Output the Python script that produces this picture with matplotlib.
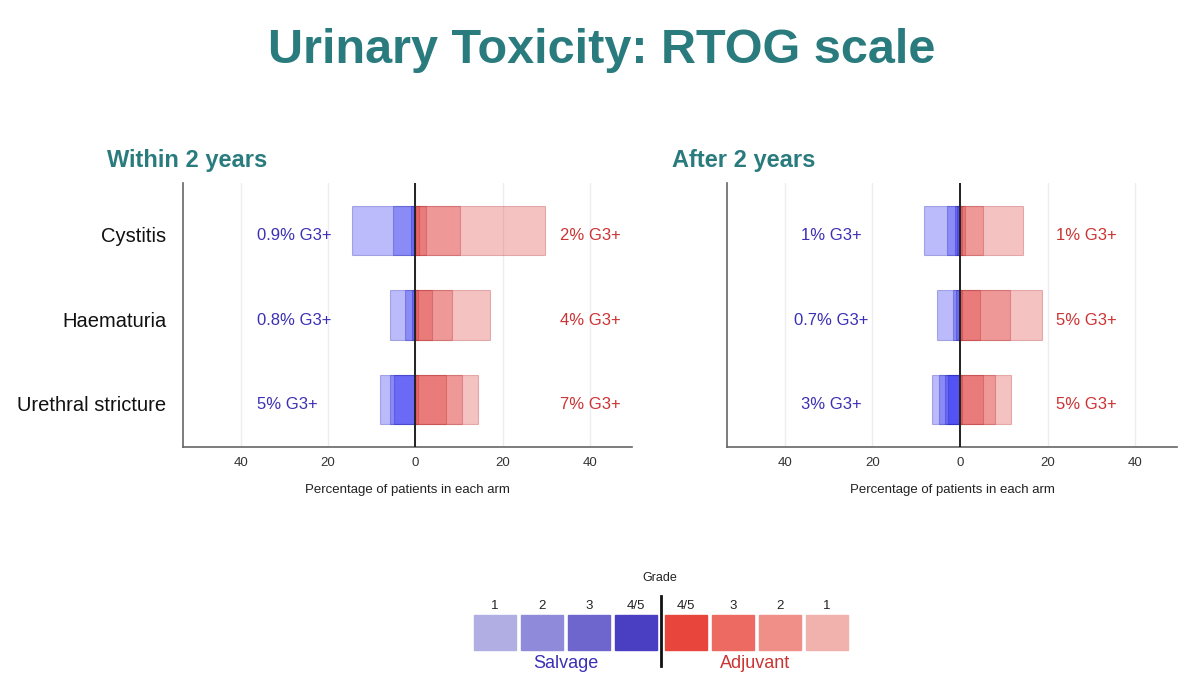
import numpy as np
import matplotlib.pyplot as plt
from matplotlib.patches import Rectangle

plt.rcParams['font.family'] = ['Liberation Sans', 'DejaVu Sans']

categories = ["Cystitis", "Haematuria", "Urethral stricture"]
grades = ["1", "2", "3", "4/5"]

# cumulative % of patients with grade >= g (columns: 1, 2, 3, 4/5)
within_salvage = [[14.6, 5.2, 1.0, 0.4],
                  [5.9, 2.5, 0.8, 0.3],
                  [8.1, 5.9, 5.0, 0.4]]
within_adjuvant = [[29.7, 10.2, 2.3, 0.8],
                   [17.1, 8.4, 3.7, 0.5],
                   [14.3, 10.7, 7.0, 0.5]]
after_salvage = [[8.2, 3.0, 1.1, 0.7],
                 [5.2, 1.6, 0.85, 0.3],
                 [6.3, 4.7, 3.4, 2.8]]
after_adjuvant = [[14.4, 5.3, 1.2, 0.5],
                  [18.6, 11.3, 4.5, 0.5],
                  [11.7, 8.0, 5.3, 0.5]]

within_salvage_g3 = ["0.9% G3+", "0.8% G3+", "5% G3+"]
within_adjuvant_g3 = ["2% G3+", "4% G3+", "7% G3+"]
after_salvage_g3 = ["1% G3+", "0.7% G3+", "3% G3+"]
after_adjuvant_g3 = ["1% G3+", "5% G3+", "5% G3+"]

ticks = [-40, -20, 0, 20, 40]

TEAL = "#2a7b7e"
BLUE_TXT = "#3b30b5"
RED_TXT = "#cc3333"
BAR_BLUE = (0.12, 0.12, 0.95)
BAR_RED = (0.88, 0.22, 0.22)

legend_salvage = ["#b0aee2", "#8f8ad9", "#6f66cd", "#4a3fc2"]
legend_adjuvant = ["#e8463d", "#ec6a62", "#f08e88", "#f1b1ad"]


def panel(ax, salvage, adjuvant, sal_txt, adj_txt, sal_x, adj_x, sal_ha):
    y = np.arange(len(categories))
    salvage = np.array(salvage)
    adjuvant = np.array(adjuvant)
    for g in range(len(grades)):
        ax.barh(y, -salvage[:, g], height=0.58, color=BAR_BLUE, alpha=0.3,
                edgecolor=(0.1, 0.1, 0.7), linewidth=0.8, zorder=2)
        ax.barh(y, adjuvant[:, g], height=0.58, color=BAR_RED, alpha=0.3,
                edgecolor=(0.7, 0.15, 0.15), linewidth=0.8, zorder=2)
    for i in range(len(categories)):
        ax.text(sal_x, y[i] + 0.06, sal_txt[i], color=BLUE_TXT, fontsize=12,
                ha=sal_ha, va='center')
        ax.text(adj_x, y[i] + 0.06, adj_txt[i], color=RED_TXT, fontsize=12,
                ha='center', va='center')
    ax.axvline(0, color='#222222', lw=1.4, zorder=3)
    ax.set_xlim(-53.2, 49.5)
    ax.set_ylim(2.56, -0.56)
    ax.set_xticks(ticks)
    ax.set_xticklabels([str(abs(t)) for t in ticks])
    ax.xaxis.grid(True, color='#ececf2', lw=1, zorder=0)
    ax.set_axisbelow(True)
    ax.tick_params(axis='x', length=0, pad=7, labelsize=9.5, labelcolor='#333333')
    ax.tick_params(axis='y', length=0)
    for s in ['top', 'right']:
        ax.spines[s].set_visible(False)
    for s in ['left', 'bottom']:
        ax.spines[s].set_color('#666666')
        ax.spines[s].set_linewidth(1.2)
    ax.set_xlabel("Percentage of patients in each arm", fontsize=9.5,
                  color='#222222', labelpad=11)


fig = plt.figure(figsize=(12, 6.87), dpi=100)

ax1 = fig.add_axes([0.1525, 0.3493, 0.374, 0.3843])
panel(ax1, within_salvage, within_adjuvant, within_salvage_g3,
      within_adjuvant_g3, -36.3, 40, 'left')
ax1.set_yticks(np.arange(len(categories)) + 0.05)
ax1.set_yticklabels(categories, fontsize=14.5, color='#111111')
ax1.tick_params(axis='y', pad=12)

ax2 = fig.add_axes([0.6058, 0.3493, 0.375, 0.3843])
panel(ax2, after_salvage, after_adjuvant, after_salvage_g3,
      after_adjuvant_g3, -29.3, 28.8, 'center')
ax2.set_yticks([])

fig.text(0.501, 0.926, "Urinary Toxicity: RTOG scale", color=TEAL,
         fontsize=35, fontweight='bold', ha='center', va='center')
fig.text(107 / 1200, 1 - 160 / 687, "Within 2 years", color=TEAL,
         fontsize=17, fontweight='bold', ha='left', va='center')
fig.text(672 / 1200, 1 - 160 / 687, "After 2 years", color=TEAL,
         fontsize=17, fontweight='bold', ha='left', va='center')

# legend in pixel coordinates
lg = fig.add_axes([0, 0, 1, 1], zorder=-1)
lg.set_xlim(0, 1200)
lg.set_ylim(687, 0)
lg.axis('off')
sal_x = [474, 521, 568, 615]
adj_x = [665, 712, 759, 806]
labels_adj = grades[::-1]
for i in range(4):
    lg.add_patch(Rectangle((sal_x[i], 615), 42, 35, color=legend_salvage[i]))
    lg.text(sal_x[i] + 21, 606, grades[i], fontsize=9.5, color='#222222',
            ha='center', va='center')
    lg.add_patch(Rectangle((adj_x[i], 615), 42, 35, color=legend_adjuvant[i]))
    lg.text(adj_x[i] + 21, 606, labels_adj[i], fontsize=9.5, color='#222222',
            ha='center', va='center')
lg.plot([660.5, 660.5], [596, 666], color='#111111', lw=2)
lg.text(660, 578, "Grade", fontsize=9, color='#222222', ha='center', va='center')
lg.text(566, 663, "Salvage", fontsize=13, color=BLUE_TXT, ha='center', va='center')
lg.text(755, 663, "Adjuvant", fontsize=13, color=RED_TXT, ha='center', va='center')

fig.savefig("out.png", dpi=100)
